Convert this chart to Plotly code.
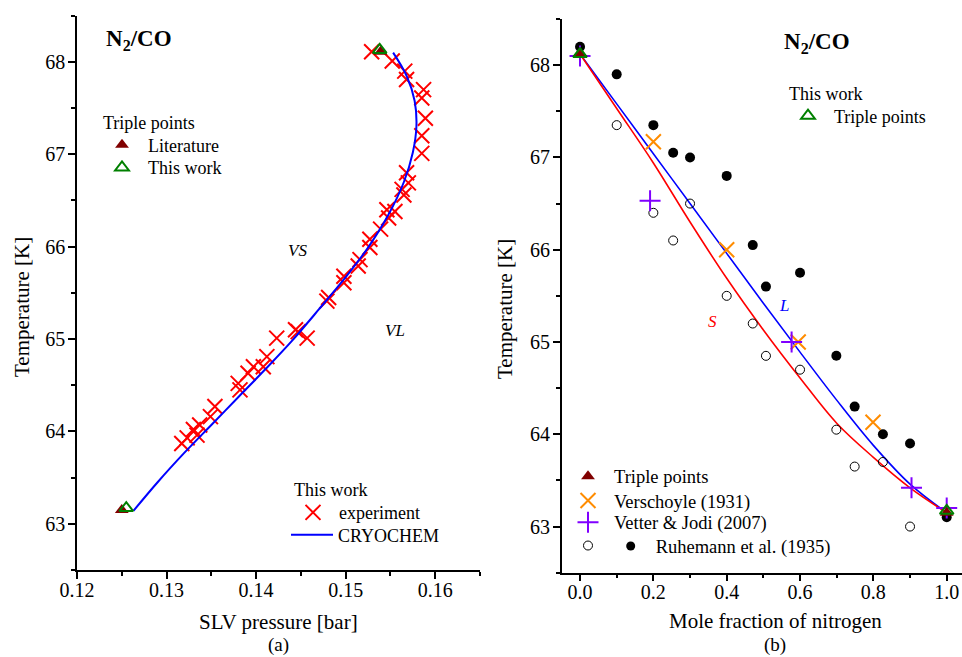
import plotly.graph_objects as go

W, H = 962, 657
FONT = "Liberation Serif, Times New Roman, serif"


def px(x):
    return x / W


def py(y):
    return 1 - y / H


# ---------------- Panel (a): SLV pressure ----------------
exp_p = [0.1529, 0.1552, 0.1566, 0.1568, 0.1587, 0.1585, 0.1589, 0.1585, 0.1585,
         0.1568, 0.1570, 0.1563, 0.1565, 0.1546, 0.1555, 0.1548, 0.1539, 0.1527,
         0.1527, 0.1516, 0.1514, 0.1498, 0.1498, 0.1481, 0.1479, 0.1444, 0.1447,
         0.1457, 0.1423, 0.1412, 0.1408, 0.1397, 0.1391, 0.1380, 0.1382, 0.1354,
         0.1349, 0.1337, 0.1330, 0.1334, 0.1323, 0.1317]
exp_T = [68.11, 68.01, 67.90, 67.81, 67.70, 67.61, 67.39, 67.20, 67.01,
         66.80, 66.69, 66.62, 66.56, 66.40, 66.38, 66.31, 66.19, 66.08,
         65.99, 65.86, 65.79, 65.68, 65.61, 65.45, 65.41, 65.10, 65.08,
         65.01, 65.01, 64.81, 64.70, 64.70, 64.63, 64.52, 64.45, 64.27,
         64.16, 64.07, 64.02, 63.96, 63.93, 63.87]

cryo_p = [0.1263, 0.1290, 0.1320, 0.1350, 0.1380, 0.1410, 0.1440, 0.1470, 0.1500,
          0.1525, 0.1548, 0.1565, 0.1575, 0.1579, 0.1577, 0.1568, 0.1553]
cryo_T = [63.14, 63.45, 63.77, 64.07, 64.37, 64.67, 64.98, 65.32, 65.67,
          65.99, 66.35, 66.70, 67.02, 67.30, 67.58, 67.85, 68.10]

tp_lit_p = [0.1250, 0.1539]
tp_lit_T = [63.15, 68.11]
tp_this_p = [0.1255, 0.1538]
tp_this_T = [63.17, 68.13]

# ---------------- Panel (b): composition ----------------
L_x = [0.0, 0.1, 0.2, 0.3, 0.4, 0.5, 0.6, 0.7, 0.8, 0.9, 1.0]
L_T = [68.12, 67.58, 67.04, 66.50, 65.96, 65.42, 64.89, 64.37, 63.88, 63.46, 63.15]
S_x = [0.0, 0.1, 0.2, 0.3, 0.4, 0.5, 0.6, 0.7, 0.8, 0.9, 1.0]
S_T = [68.12, 67.53, 66.94, 66.30, 65.69, 65.13, 64.61, 64.12, 63.75, 63.42, 63.15]

ruh_fill_x = [0.0, 0.1, 0.2, 0.254, 0.3, 0.4, 0.471, 0.507, 0.6, 0.699, 0.749, 0.826, 0.9, 1.0]
ruh_fill_T = [68.20, 67.90, 67.35, 67.05, 67.00, 66.80, 66.05, 65.60, 65.75, 64.85, 64.30, 64.00, 63.90, 63.10]
ruh_open_x = [0.1, 0.2, 0.254, 0.3, 0.4, 0.471, 0.507, 0.6, 0.699, 0.749, 0.826, 0.9]
ruh_open_T = [67.35, 66.40, 66.10, 66.50, 65.50, 65.20, 64.85, 64.70, 64.05, 63.65, 63.70, 63.00]

vers_x = [0.2, 0.4, 0.595, 0.799]
vers_T = [67.17, 66.00, 65.00, 64.13]

vet_x = [0.0, 0.191, 0.577, 0.904, 1.0]
vet_T = [68.10, 66.53, 65.00, 63.42, 63.20]

tpb_lit_x = [0.0, 1.0]
tpb_lit_T = [68.13, 63.15]
tpb_this_x = [0.0, 1.0]
tpb_this_T = [68.12, 63.17]

RED = "#FF0000"
BLUE = "#0000FF"
DARKRED = "#800000"
GREEN = "#008000"
ORANGE = "#FF8C00"
PURPLE = "#8000FF"

fig = go.Figure()

# ---- panel (a) traces ----
fig.add_trace(go.Scatter(x=exp_p, y=exp_T, mode="markers", name="experiment",
                         marker=dict(symbol="x-thin", size=15, line=dict(color=RED, width=2)),
                         xaxis="x", yaxis="y", legend="legend3"))
fig.add_trace(go.Scatter(x=cryo_p, y=cryo_T, mode="lines", name="CRYOCHEM",
                         line=dict(color=BLUE, width=2, shape="spline"),
                         xaxis="x", yaxis="y", legend="legend4"))
fig.add_trace(go.Scatter(x=tp_lit_p, y=tp_lit_T, mode="markers", name="Literature",
                         marker=dict(symbol="triangle-up", size=12, color=DARKRED),
                         xaxis="x", yaxis="y", legend="legend"))
fig.add_trace(go.Scatter(x=tp_this_p, y=tp_this_T, mode="markers", name="This work",
                         marker=dict(symbol="triangle-up-open", size=12, color=GREEN,
                                     line=dict(color=GREEN, width=2)),
                         xaxis="x", yaxis="y", legend="legend2"))

# ---- panel (b) traces ----
fig.add_trace(go.Scatter(x=L_x, y=L_T, mode="lines", showlegend=False,
                         line=dict(color=BLUE, width=1.6, shape="spline"),
                         xaxis="x2", yaxis="y2"))
fig.add_trace(go.Scatter(x=S_x, y=S_T, mode="lines", showlegend=False,
                         line=dict(color=RED, width=1.6, shape="spline"),
                         xaxis="x2", yaxis="y2"))
fig.add_trace(go.Scatter(x=ruh_fill_x, y=ruh_fill_T, mode="markers", showlegend=False,
                         marker=dict(symbol="circle", size=10, color="black"),
                         xaxis="x2", yaxis="y2"))
fig.add_trace(go.Scatter(x=ruh_open_x, y=ruh_open_T, mode="markers",
                         name="\u00a0" * 9 + "Ruhemann et al. (1935)",
                         marker=dict(symbol="circle-open", size=9, color="black",
                                     line=dict(color="black", width=1)),
                         xaxis="x2", yaxis="y2", legend="legend9"))
fig.add_trace(go.Scatter(x=vers_x, y=vers_T, mode="markers", name="Verschoyle (1931)",
                         marker=dict(symbol="x-thin", size=15, line=dict(color=ORANGE, width=2)),
                         xaxis="x2", yaxis="y2", legend="legend7"))
fig.add_trace(go.Scatter(x=vet_x, y=vet_T, mode="markers", name="Vetter & Jodi (2007)",
                         marker=dict(symbol="cross-thin", size=15, line=dict(color=PURPLE, width=2)),
                         xaxis="x2", yaxis="y2", legend="legend8"))
fig.add_trace(go.Scatter(x=tpb_lit_x, y=tpb_lit_T, mode="markers", name="Triple points",
                         marker=dict(symbol="triangle-up", size=12, color=DARKRED),
                         xaxis="x2", yaxis="y2", legend="legend6"))
fig.add_trace(go.Scatter(x=tpb_this_x, y=tpb_this_T, mode="markers", name="Triple points",
                         marker=dict(symbol="triangle-up-open", size=12, color=GREEN,
                                     line=dict(color=GREEN, width=2)),
                         xaxis="x2", yaxis="y2", legend="legend5"))

axis_common = dict(showline=True, linecolor="black", linewidth=1.5, ticks="outside",
                   ticklen=7, tickwidth=1.5, tickcolor="black", showgrid=False,
                   zeroline=False, automargin=False,
                   tickfont=dict(family=FONT, size=20, color="black"))
minor_common = dict(ticks="outside", ticklen=4, tickwidth=1.5, tickcolor="black")

# one legend per row: (legend id, symbol centre x, row centre y, font size)
legend_rows = [
    ("legend", 122, 145, 18),
    ("legend2", 122, 167.7, 18),
    ("legend3", 313, 512.7, 18),
    ("legend4", 312, 535, 18),
    ("legend5", 808, 116, 18),
    ("legend6", 588, 476.7, 18.5),
    ("legend7", 588, 501, 18.5),
    ("legend8", 588, 522.7, 18.5),
    ("legend9", 588, 546, 18.5),
]
legend_layout = {}
for lid, sx, sy, fs in legend_rows:
    legend_layout[lid] = dict(x=px(sx - 26), y=py(sy), xanchor="left", yanchor="middle",
                              bgcolor="rgba(0,0,0,0)", borderwidth=0, itemwidth=42,
                              font=dict(family=FONT, size=fs, color="black"),
                              itemsizing="trace", tracegroupgap=0)

fig.update_layout(
    template="none",
    width=W, height=H, margin=dict(l=0, r=0, t=0, b=0, autoexpand=False),
    paper_bgcolor="white", plot_bgcolor="white",
    font=dict(family=FONT, size=18, color="black"),
    showlegend=True,
    xaxis=dict(domain=[px(77), px(480)], range=[0.12, 0.165], anchor="y",
               tick0=0.12, dtick=0.01, tickformat=".2f", ticklabelstandoff=-6,
               minor=dict(dtick=0.005, **minor_common), **axis_common),
    yaxis=dict(domain=[py(570), py(15.7)], range=[62.5, 68.5], anchor="x",
               tick0=63, dtick=1, ticklabelstandoff=-1,
               minor=dict(dtick=0.5, **minor_common), **axis_common),
    xaxis2=dict(domain=[px(561.7), 1.0], range=[-0.05, 1.0417], anchor="y2",
                tick0=0, dtick=0.2, tickformat=".1f", ticklabelstandoff=-6,
                minor=dict(dtick=0.1, **minor_common), **axis_common),
    yaxis2=dict(domain=[py(572.7), py(19)], range=[62.5, 68.5], anchor="x2",
                tick0=63, dtick=1, ticklabelstandoff=-1,
                minor=dict(dtick=0.5, **minor_common), **axis_common),
    **legend_layout,
)

ann = []


def add_text(text, x, y, size, color="black", angle=0, xanchor="center"):
    ann.append(dict(text=text, x=px(x), y=py(y), xref="paper", yref="paper",
                    showarrow=False, xanchor=xanchor, yanchor="middle", textangle=angle,
                    font=dict(family=FONT, size=size, color=color)))


add_text("<b>N<sub>2</sub>/CO</b>", 104, 40, 23, xanchor="left")
add_text("<b>N<sub>2</sub>/CO</b>", 782, 43, 23, xanchor="left")
add_text("Triple points", 101, 122.7, 18, xanchor="left")
add_text("This work", 292, 490, 18, xanchor="left")
add_text("This work", 787, 94, 18, xanchor="left")
add_text("<i>VS</i>", 297, 250, 17)
add_text("<i>VL</i>", 395, 330, 17)
add_text("<i>L</i>", 784, 305, 17, color=BLUE)
add_text("<i>S</i>", 712, 321, 17, color=RED)
add_text("SLV pressure [bar]", 278, 622, 21)
add_text("(a)", 278, 645, 19)
add_text("Mole fraction of nitrogen", 775, 621, 21)
add_text("(b)", 775, 645, 19)
add_text("Temperature [K]", 22, 307, 21, angle=-90)
add_text("Temperature [K]", 505, 309, 21, angle=-90)

fig.update_layout(annotations=ann)

# filled-circle key of the Ruhemann legend row
fig.add_shape(type="circle", xref="paper", yref="paper",
              x0=px(626.2), x1=px(635.2), y0=py(550.5), y1=py(541.5),
              fillcolor="black", line=dict(color="black", width=0))

fig.write_html("out.html")
